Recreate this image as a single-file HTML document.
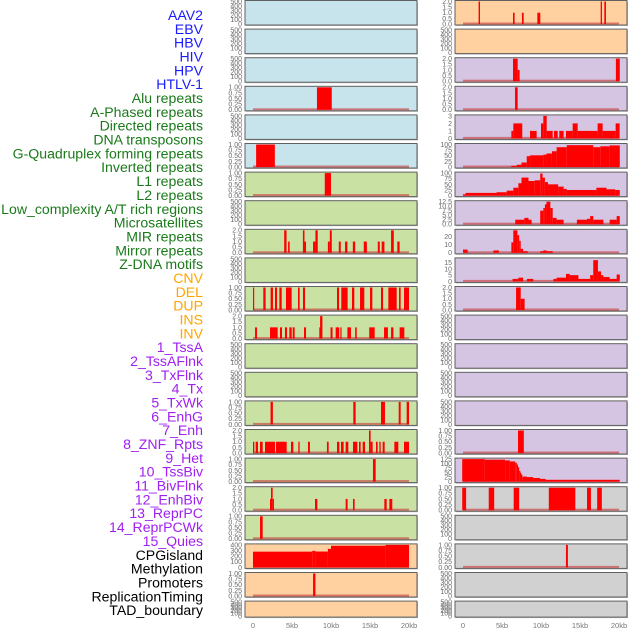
<!DOCTYPE html>
<html><head><meta charset="utf-8"><style>
html,body{margin:0;padding:0;background:#fff;}
svg{display:block;font-family:"Liberation Sans",sans-serif;}
</style></head><body>
<svg id="chart" width="630" height="630" viewBox="0 0 630 630" xmlns="http://www.w3.org/2000/svg"></svg>
<script>
const labels = ["AAV2","EBV","HBV","HIV","HPV","HTLV-1","Alu repeats","A-Phased repeats","Directed repeats","DNA transposons","G-Quadruplex forming repeats","Inverted repeats","L1 repeats","L2 repeats","Low_complexity A/T rich regions","Microsatellites","MIR repeats","Mirror repeats","Z-DNA motifs","CNV","DEL","DUP","INS","INV","1_TssA","2_TssAFlnk","3_TxFlnk","4_Tx","5_TxWk","6_EnhG","7_Enh","8_ZNF_Rpts","9_Het","10_TssBiv","11_BivFlnk","12_EnhBiv","13_ReprPC","14_ReprPCWk","15_Quies","CPGisland","Methylation","Promoters","ReplicationTiming","TAD_boundary"];
const labelGroups = [6,13,5,15,5];
const groupColors = ["#1a1aff","#1a7a1a","#ffa500","#a020f0","#000000"];
const xTicks = [0,5,10,15,20];
const xTickLabels = ["0","5kb","10kb","15kb","20kb"];
const tickSets = {
  "500":{max:500,ticks:[0,100,200,300,400,500],labels:["0","100","200","300","400","500"]},
  "1":{max:1,ticks:[0,0.25,0.5,0.75,1],labels:["0.00","0.25","0.50","0.75","1.00"]},
  "2":{max:2,ticks:[0,0.5,1,1.5,2],labels:["0.0","0.5","1.0","1.5","2.0"]},
  "3":{max:3,ticks:[0,1,2,3],labels:["0","1","2","3"]},
  "100":{max:100,ticks:[0,25,50,75,100],labels:["0","25","50","75","100"]},
  "12.5":{max:12.5,ticks:[0,2.5,5,7.5,10,12.5],labels:["0.0","2.5","5.0","7.5","10.0","12.5"]},
  "20":{max:28,ticks:[0,10,20],labels:["0","10","20"]},
  "15":{max:18,ticks:[0,5,10,15],labels:["0","5","10","15"]},
  "125":{max:125,ticks:[0,25,50,75,100,125],labels:["0","25","50","75","100","125"]},
  "400":{max:400,ticks:[0,100,200,300,400],labels:["0","100","200","300","400"]}
};
const leftBg = ["b","b","b","b","b","b","g","g","g","g","g","g","g","g","g","g","g","g","g","o","o","o"];
const rightBg = ["o","o","p","p","p","p","p","p","p","p","p","p","p","p","p","p","p","y","y","y","y","y"];
const leftScale = ["500","500","500","1","500","1","1","500","2","500","1","2","500","500","1","2","1","2","1","400","1","500"];
const rightScale = ["2","500","2","2","3","100","100","12.5","20","15","2","500","500","500","500","1","125","1","500","1","500","500"];
const leftBars = [
 [],[],[],[[8.2,10.1,1]],[],[[0.4,2.8,1]],[[9.2,10.0,1]],[],
 [[4.0,4.3,2],[4.5,4.7,1],[6.4,6.6,2],[6.6,6.8,1],[7.7,8.0,1],[8.0,8.3,2],[9.6,9.85,1],[9.85,10.1,2],[11.0,11.25,1],[11.8,12.1,1],[12.8,13.1,1],[14.2,14.6,1],[16.0,16.25,1],[16.5,16.85,1],[17.7,18.05,2],[18.5,18.8,1]],
 [],
 [[0,0.13,1],[1.32,1.62,1],[2.26,2.56,1],[2.82,3.08,1],[3.38,3.68,1],[4.23,4.96,1],[5.77,5.98,1],[6.41,6.67,1],[10.77,11.03,1],[11.32,12.13,1],[12.69,12.99,1],[13.72,14.27,1],[15.0,15.3,1],[16.41,16.67,1],[17.35,18.42,1],[18.72,18.93,1],[19.36,20.0,1]],
 [[0.26,0.51,1],[2.18,3.16,1],[3.46,3.72,1],[4.1,4.36,1],[4.66,4.96,1],[5.09,5.34,1],[6.54,6.8,1],[8.5,8.6,1],[8.6,8.9,2],[9.94,10.2,1],[10.6,11.05,1],[11.2,11.3,1],[12.1,12.56,1],[13.1,13.3,1],[14.9,15.6,1],[16.8,17.3,1],[17.7,18.0,1],[18.8,19.4,1]],
 [],[],
 [[2.25,2.55,1],[12.86,13.16,1],[16.41,16.92,1],[18.68,18.93,1],[19.7,20.0,1]],
 [[0,0.17,1],[0.34,0.64,1],[0.9,1.24,1],[1.54,2.82,1],[2.95,4.32,1],[4.87,5.17,1],[5.81,5.98,1],[7.05,7.3,1],[9.48,9.7,1],[10.77,11.07,1],[11.28,11.62,1],[11.88,12.22,1],[12.82,13.38,1],[13.59,13.8,1],[14.06,14.36,1],[14.87,15.08,2],[15.08,15.34,1],[15.77,15.98,1],[16.2,16.37,1],[16.62,16.88,1],[18.12,18.63,1],[19.36,20.0,1]],
 [[15.38,15.73,1]],
 [[2.18,2.31,1],[2.31,2.52,2],[2.52,2.69,1],[7.95,8.25,1],[11.88,12.13,1],[12.82,13.03,1],[16.84,17.14,1],[17.48,17.86,1]],
 [[0.9,1.24,1]],
 [[0,7.6,280],[7.6,8.0,295],[8.0,9.6,282],[9.6,10.0,330],[10.0,17.0,385],[17.0,20.0,400]],
 [[7.7,8.0,1]],
 []
];
const rightBars = [
 [[2.0,2.18,2],[6.41,6.62,1],[7.56,7.78,1],[9.53,9.91,1],[17.65,17.82,2],[18.12,18.33,2]],
 [],
 [[6.41,7.01,2],[7.01,7.26,1],[19.6,20.1,2]],
 [[6.67,7.01,2]],
 [[6.2,6.45,1],[6.45,7.6,2],[8.59,9.44,1],[10.0,10.3,2],[10.3,10.73,3],[10.73,11.5,1],[11.67,12.14,1],[12.35,12.9,1],[13.2,14.06,1],[14.06,14.7,2],[14.7,17.26,1],[17.26,17.9,2],[17.9,19.57,1],[19.57,20.08,2]],
 [[6.2,6.9,5],[6.9,7.5,10],[7.5,8.17,20],[8.17,8.6,48],[8.6,10.3,52],[10.3,10.7,55],[10.7,11.4,60],[11.4,12.0,70],[12.0,13.3,88],[13.3,15.0,97],[15.0,16.7,97],[16.7,17.6,88],[17.6,18.8,92],[18.8,20.1,96]],
 [[0,0.33,5],[0.33,4.3,12],[4.3,5.6,15],[5.6,6.45,22],[6.45,7.1,35],[7.1,7.5,55],[7.5,8.4,80],[8.4,9.2,65],[9.2,9.9,68],[9.9,10.2,98],[10.2,10.5,80],[10.5,10.9,60],[10.9,12.2,50],[12.2,12.9,40],[12.9,13.3,30],[13.3,17.1,25],[17.1,18.4,35],[18.4,19.5,28],[19.5,20.1,25]],
 [[6.7,7.86,2.5],[7.86,8.4,3.5],[8.4,8.8,2.5],[9.9,10.3,7.5],[10.3,10.5,9],[10.5,10.7,11],[10.7,11.2,12.5],[11.2,11.5,9],[11.5,12.0,3.5],[12.0,12.9,2.5],[14.6,15.9,2.5],[15.9,16.3,3],[16.3,16.7,4.5],[16.7,18.0,2.5],[18.8,19.7,2.5],[19.7,20.1,4.5]],
 [[0,0.6,4],[3.9,4.6,3],[6.2,6.45,13],[6.45,6.97,28],[6.97,7.2,22],[7.2,7.4,15],[7.4,7.7,5],[7.7,8.3,2],[9.9,10.3,2],[10.3,10.7,3],[10.7,11.5,2]],
 [[6.36,7.1,2],[7.1,7.7,3],[8.2,9.0,2],[11.6,12.0,2],[12.0,13.2,3],[13.2,13.7,6],[13.7,14.8,5],[14.8,16.3,2],[16.3,16.7,5],[16.7,17.3,17],[17.3,17.7,8],[17.7,18.0,5],[18.0,18.8,3.5],[18.8,19.7,2],[19.7,20.1,5.5]],
 [[6.8,7.4,2],[7.4,7.9,1]],
 [],[],[],[],
 [[7.05,7.8,1]],
 [[-0.1,2.8,125],[2.8,5.4,122],[5.4,6.0,118],[6.0,6.7,112],[6.7,6.9,105],[6.9,7.05,95],[7.05,7.2,80],[7.2,7.3,60],[7.3,7.4,50],[7.4,7.6,40],[7.6,8.2,28],[8.2,9.0,25],[9.0,9.9,20],[9.9,10.6,15],[10.6,20.1,10]],
 [[-0.1,0.4,1],[3.3,4.0,1],[6.5,7.2,1],[11.0,14.4,1],[15.9,16.4,1],[17.2,17.8,1]],
 [],
 [[13.2,13.45,1]],
 [],[]
];

const NS = "http://www.w3.org/2000/svg";
const svg = document.getElementById("chart");
const bgColors = {b:"#c7e3eb",g:"#c9e1a3",o:"#ffd1a0",p:"#d5c5e2",y:"#d1d1d1"};
const cols = [{px0:245,px1:417,x0:253,bg:leftBg,sc:leftScale,bars:leftBars,name:"left"},
              {px0:455,px1:627,x0:463,bg:rightBg,sc:rightScale,bars:rightBars,name:"right"}];
const KBPX = 7.8;
function mk(tag, attrs, parent){const e=document.createElementNS(NS,tag);for(const k in attrs)e.setAttribute(k,attrs[k]);(parent||svg).appendChild(e);return e;}
function rowTop(i){return i*28.6+0.5;}
function rowH(i){return i===21?16:24.5;}

let li=0;
labelGroups.forEach((n,g)=>{
  for(let k=0;k<n;k++){
    const t=mk("text",{x:203,y:15+li*13.84+5,"text-anchor":"end","font-size":"14.1",fill:groupColors[g]});
    
    
    t.textContent=labels[li];li++;
  }
});

cols.forEach(c=>{
  const xs=kb=>c.x0+kb*KBPX;
  for(let i=0;i<22;i++){
    const top=rowTop(i),h=rowH(i);
    const g=mk("g",{});
    
    
    mk("rect",{x:c.px0+1,y:top+1,width:c.px1-c.px0,height:h,fill:"#bbbbbb"},g);
    const r=mk("rect",{x:c.px0,y:top,width:c.px1-c.px0,height:h,fill:bgColors[c.bg[i]],stroke:"#606060","stroke-width":"1"},g);
    
    
    const ts=tickSets[c.sc[i]];
    const y0=top+h-1,y1=top+1;
    const ys=v=>y0-(v/ts.max)*(y0-y1);
    ts.ticks.forEach((v,k)=>{
      const t=mk("text",{x:c.px0-3,y:ys(v)+2.4,"text-anchor":"end","font-size":"7",fill:"#6a6a6a"},g);
      
      
      t.textContent=ts.labels[k];
    });
    const bars=c.bars[i];
    if(ts.max!==500){
      const bl=mk("rect",{x:xs(0),y:y0-1.5,width:xs(20)-xs(0),height:2,fill:"#c84040","fill-opacity":"0.65"},g);
      
      
    }
    bars.forEach(b=>{
      const x=xs(b[0]),w=Math.max(1.2,xs(b[1])-xs(b[0]));
      const yt=ys(b[2]);
      const br=mk("rect",{x:x,y:yt,width:w,height:y0-yt,fill:"#ff0000"},g);
      
      
    });
  }
  xTicks.forEach((v,k)=>{
    const t=mk("text",{x:xs(v),y:628,"text-anchor":"middle","font-size":"7.5",fill:"#777"});
    
    
    t.textContent=xTickLabels[k];
  });
});
</script>
</body></html>
